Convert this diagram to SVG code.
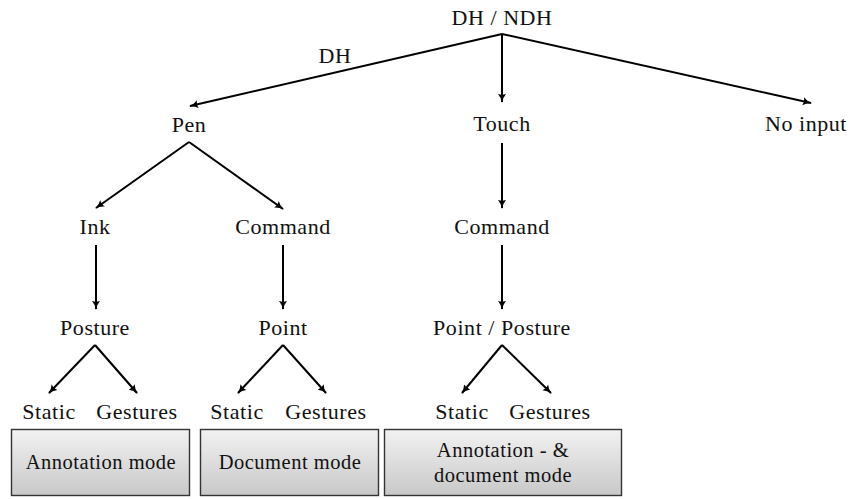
<svg xmlns="http://www.w3.org/2000/svg" width="858" height="499" viewBox="0 0 858 499">
  <defs>
    <marker id="arr" viewBox="0 0 10 10" refX="9" refY="5" markerWidth="4.5" markerHeight="4.5" markerUnits="strokeWidth" orient="auto">
      <path d="M0,0.5 Q4,4 10,5 Q4,6 0,9.5 Q2,5 0,0.5 Z" fill="#000"/>
    </marker>
    <linearGradient id="boxfill" x1="0" y1="0" x2="0" y2="1">
      <stop offset="0" stop-color="#f2f2f2"/>
      <stop offset="1" stop-color="#c8c8c8"/>
    </linearGradient>
  </defs>
  <style>
    text { font-family: 'Liberation Serif', 'DejaVu Serif', serif; font-size: 22px; letter-spacing: 0.55px; fill: #111; text-anchor: middle; }
    .edge { stroke: #000; stroke-width: 2; fill: none; marker-end: url(#arr); }
    .mode { fill: url(#boxfill); stroke: #333; stroke-width: 1.4; }
    .mode-label { font-size: 20.5px; letter-spacing: 0.5px; }
  </style>
  <rect width="858" height="499" fill="#fff"/>

  <g id="connectors">
    <line class="edge" x1="502" y1="34" x2="190" y2="106"/>
    <line class="edge" x1="502" y1="34" x2="502" y2="102"/>
    <line class="edge" x1="502" y1="34" x2="811" y2="103"/>
    <line class="edge" x1="189" y1="142" x2="96" y2="208"/>
    <line class="edge" x1="189" y1="142" x2="283" y2="209"/>
    <line class="edge" x1="96" y1="245" x2="96" y2="309"/>
    <line class="edge" x1="283" y1="245" x2="283" y2="309"/>
    <line class="edge" x1="502" y1="143" x2="502" y2="208"/>
    <line class="edge" x1="502" y1="245" x2="502" y2="309"/>
    <line class="edge" x1="95" y1="345" x2="49" y2="393"/>
    <line class="edge" x1="95" y1="345" x2="137" y2="393"/>
    <line class="edge" x1="283" y1="345" x2="238" y2="393"/>
    <line class="edge" x1="283" y1="345" x2="326" y2="393"/>
    <line class="edge" x1="502" y1="345" x2="462" y2="393"/>
    <line class="edge" x1="502" y1="345" x2="551" y2="393"/>
    <text x="335" y="63">DH</text>
  </g>

  <g id="root"><text x="502" y="25">DH / NDH</text></g>
  <g id="pen"><text x="189" y="132">Pen</text></g>
  <g id="touch"><text x="502" y="131">Touch</text></g>
  <g id="no-input"><text x="806" y="131">No input</text></g>
  <g id="ink"><text x="95" y="234">Ink</text></g>
  <g id="pen-command"><text x="283" y="234">Command</text></g>
  <g id="touch-command"><text x="502" y="234">Command</text></g>
  <g id="posture"><text x="95" y="335">Posture</text></g>
  <g id="point"><text x="283" y="335">Point</text></g>
  <g id="point-posture"><text x="502" y="335">Point / Posture</text></g>

  <g id="ink-static"><text x="49" y="419">Static</text></g>
  <g id="ink-gestures"><text x="137" y="419">Gestures</text></g>
  <g id="point-static"><text x="237" y="419">Static</text></g>
  <g id="point-gestures"><text x="326" y="419">Gestures</text></g>
  <g id="touch-static"><text x="462" y="419">Static</text></g>
  <g id="touch-gestures"><text x="550" y="419">Gestures</text></g>

  <g id="annotation-mode">
    <rect class="mode" x="11.5" y="429.5" width="178" height="66"/>
    <text class="mode-label" x="101" y="469">Annotation mode</text>
  </g>
  <g id="document-mode">
    <rect class="mode" x="200.5" y="429.5" width="178" height="66"/>
    <text class="mode-label" x="290" y="469">Document mode</text>
  </g>
  <g id="combined-mode">
    <rect class="mode" x="384.5" y="429.5" width="237" height="66"/>
    <text class="mode-label" x="503" y="457">Annotation - &amp;</text>
    <text class="mode-label" x="503" y="482">document mode</text>
  </g>
</svg>
